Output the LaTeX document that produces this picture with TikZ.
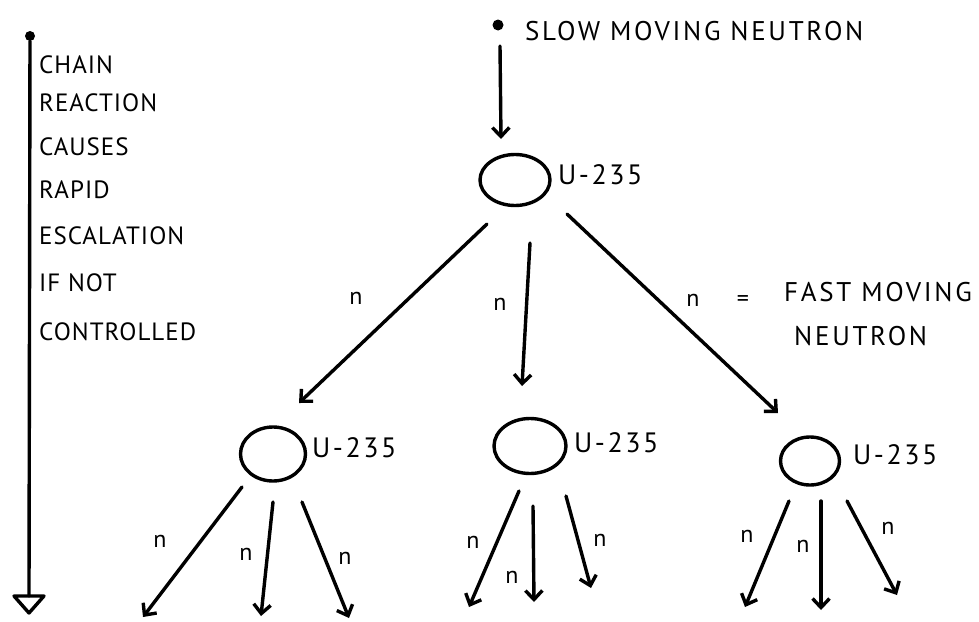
\documentclass[tikz,border=0pt]{standalone}
\usepackage{fontspec}
\setmainfont{PT Sans}
\usetikzlibrary{arrows.meta,shapes.geometric}
\begin{document}
\begin{tikzpicture}[x=1pt,y=-1pt,
  ink/.style={line width=3.4pt,line cap=round,line join=round},
  flow/.style={ink,-{Straight Barb[length=9pt,width=17pt,line width=3.4pt]}},
  nucleus/.style={ellipse,draw,line width=3.4pt,inner sep=0pt},
  lbl/.style={font=\fontsize{25}{28}\selectfont\addfontfeature{LetterSpace=4},anchor=west,inner sep=0pt},
  wide/.style={lbl,font=\fontsize{27}{30}\selectfont\addfontfeature{LetterSpace=10}},
  iso/.style={lbl,font=\fontsize{28}{30}\selectfont\addfontfeature{LetterSpace=9}},
  nlbl/.style={font=\fontsize{24}{26}\selectfont,inner sep=0pt}]
\useasboundingbox (0,0) rectangle (979,621);

% time axis on the left
\node[circle,fill,inner sep=0pt,minimum size=10pt] (t0) at (30,36) {};
\coordinate (t1) at (29,596);
\draw[ink] (t0) -- (t1);
\draw[ink] (t1) -- (14,596) -- (29,613) -- (44,596) -- cycle;
\node[lbl] (c1) at (39,65) {CHAIN};
\node[lbl] (c2) at (39,103) {REACTION};
\node[lbl] (c3) at (39,147) {CAUSES};
\node[lbl] (c4) at (39,190) {RAPID};
\node[lbl] (c5) at (39,236) {ESCALATION};
\node[lbl] (c6) at (39,283) {IF NOT};
\node[lbl] (c7) at (39,332) {CONTROLLED};

% incoming slow neutron
\node[circle,fill,inner sep=0pt,minimum size=11pt] (sn) at (498,25) {};
\node[wide] (snl) at (525,31) {SLOW MOVING NEUTRON};

% first nucleus
\node[nucleus,minimum width=70pt,minimum height=51pt] (u0) at (515,180) {};
\node[iso] (u0l) at (558,175) {U-235};
\coordinate (s0) at (500,46);
\coordinate (a0) at (501,139);
\draw[flow] (s0) -- (a0);

% second generation
\node[nucleus,minimum width=65pt,minimum height=54pt] (u1) at (273,454) {};
\node[iso] (u1l) at (312,448) {U-235};
\node[nucleus,minimum width=72pt,minimum height=55pt] (u2) at (530,446) {};
\node[iso] (u2l) at (574,443) {U-235};
\node[nucleus,minimum width=59pt,minimum height=48pt] (u3) at (810,461) {};
\node[iso] (u3l) at (853,455) {U-235};

\coordinate (b1) at (487,224);
\coordinate (b2) at (530,243);
\coordinate (b3) at (567,214);
\coordinate (e1) at (299,403);
\coordinate (e2) at (522,386);
\coordinate (e3) at (778,413);
\draw[flow] (b1) -- (e1);
\draw[flow] (b2) -- (e2);
\draw[flow] (b3) -- (e3);
\node[nlbl] (n1) at (356,298) {n};
\node[nlbl] (n2) at (500,304) {n};
\node[nlbl] (n3) at (693,300) {n};
\node[nlbl] (eq) at (743,301) {=};
\node[wide] (fm1) at (784,292) {FAST MOVING};
\node[wide] (fm2) at (794,336) {NEUTRON};

% third generation, left
\coordinate (g11) at (242,487);
\coordinate (g12) at (273,502);
\coordinate (g13) at (302,502);
\coordinate (f11) at (143,617);
\coordinate (f12) at (261,616);
\coordinate (f13) at (349,618);
\draw[flow] (g11) -- (f11);
\draw[flow] (g12) -- (f12);
\draw[flow] (g13) -- (f13);
\node[nlbl] (n11) at (160,541) {n};
\node[nlbl] (n12) at (246,554) {n};
\node[nlbl] (n13) at (345,558) {n};

% third generation, middle
\coordinate (g21) at (519,491);
\coordinate (g22) at (533,506);
\coordinate (g23) at (566,496);
\coordinate (f21) at (469,607);
\coordinate (f22) at (534,602);
\coordinate (f23) at (591,588);
\draw[flow] (g21) -- (f21);
\draw[flow] (g22) -- (f22);
\draw[flow] (g23) -- (f23);
\node[nlbl] (n21) at (473,542) {n};
\node[nlbl] (n22) at (512,577) {n};
\node[nlbl] (n23) at (600,540) {n};

% third generation, right
\coordinate (g31) at (789,501);
\coordinate (g32) at (821,501);
\coordinate (g33) at (847,501);
\coordinate (f31) at (745,607);
\coordinate (f32) at (821,610);
\coordinate (f33) at (897,595);
\draw[flow] (g31) -- (f31);
\draw[flow] (g32) -- (f32);
\draw[flow] (g33) -- (f33);
\node[nlbl] (n31) at (747,536) {n};
\node[nlbl] (n32) at (803,546) {n};
\node[nlbl] (n33) at (888,528) {n};
\end{tikzpicture}
\end{document}
